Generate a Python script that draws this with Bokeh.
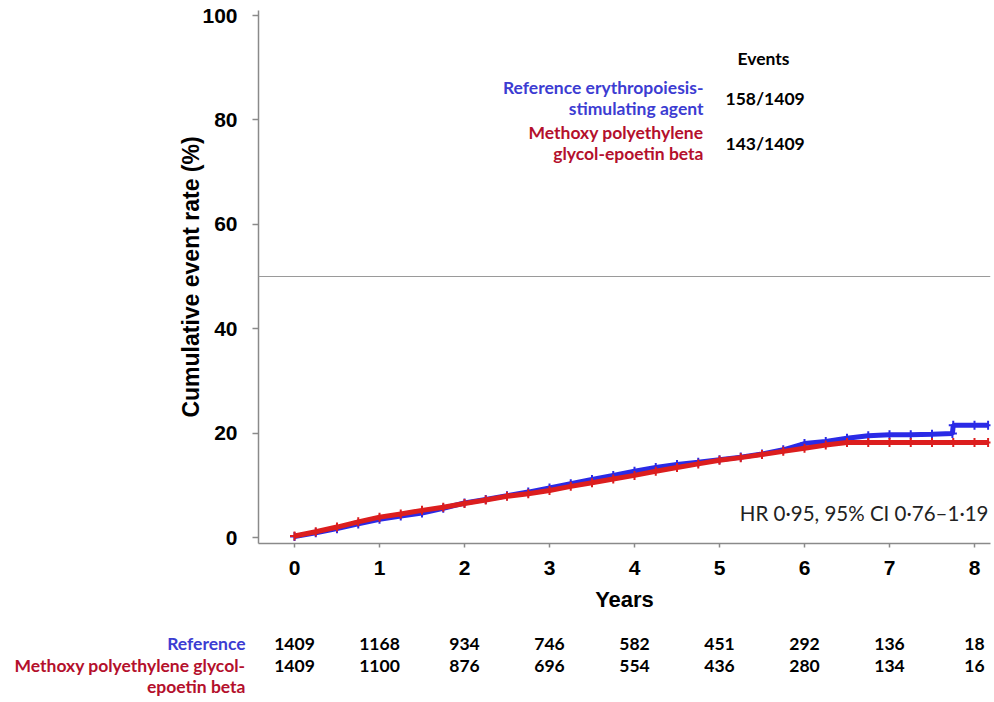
from bokeh.plotting import figure
from bokeh.models import Range1d, FixedTicker, Span, Label, ColumnDataSource
from bokeh.layouts import column
from bokeh.core.properties import value
from bokeh.embed import file_html
from bokeh.resources import INLINE

# ---------------- data ----------------
ref_t = [0, 0.25, 0.5, 0.75, 1.0, 1.25, 1.5, 1.75, 2.0, 2.25, 2.5, 2.75, 3.0, 3.25, 3.5, 3.75,
         4.0, 4.25, 4.5, 4.75, 5.0, 5.25, 5.5, 5.75, 6.0, 6.25, 6.5, 6.75, 7.0, 7.25, 7.5, 7.74,
         7.75, 8.0, 8.16]
ref_v = [0.2, 0.9, 1.7, 2.6, 3.5, 4.1, 4.7, 5.6, 6.6, 7.3, 8.0, 8.7, 9.5, 10.3, 11.1, 11.9,
         12.7, 13.4, 14.0, 14.4, 14.9, 15.4, 16.0, 16.8, 18.0, 18.4, 19.0, 19.5, 19.7, 19.7, 19.8, 19.9,
         21.5, 21.5, 21.5]
mpg_t = [0, 0.25, 0.5, 0.75, 1.0, 1.25, 1.5, 1.75, 2.0, 2.25, 2.5, 2.75, 3.0, 3.25, 3.5, 3.75,
         4.0, 4.25, 4.5, 4.75, 5.0, 5.25, 5.5, 5.75, 6.0, 6.25, 6.5, 6.75, 7.0, 7.25, 7.5, 7.75,
         8.0, 8.16]
mpg_v = [0.3, 1.1, 2.0, 3.0, 3.9, 4.5, 5.2, 5.8, 6.5, 7.2, 7.9, 8.4, 9.0, 9.8, 10.5, 11.2,
         11.9, 12.7, 13.4, 14.1, 14.8, 15.3, 15.9, 16.5, 17.1, 17.7, 18.2, 18.2, 18.2, 18.2, 18.2, 18.2,
         18.2, 18.2]

x_ticks = [0, 1, 2, 3, 4, 5, 6, 7, 8]
y_ticks = [0, 20, 40, 60, 80, 100]
risk_years = [0, 1, 2, 3, 4, 5, 6, 7, 8]
risk_ref = [1409, 1168, 934, 746, 582, 451, 292, 136, 18]
risk_mpg = [1409, 1100, 876, 696, 554, 436, 280, 134, 16]
events_ref = "158/1409"
events_mpg = "143/1409"
hr_text = "HR 0\u00b795, 95% CI 0\u00b776\u20131\u00b719"

BLUE = "#2a2ae6"
RED = "#dc1e1e"
BLUE_TXT = "#3c3cd2"
RED_TXT = "#b4102c"
AXIS = "#8a8a8a"
CAL = "Lato"
ARIAL = "Liberation Sans"
CAL_SIZE = "17.5px"

# ---------------- geometry helpers (page px -> data) ----------------
X0, PX_PER_YR = 294.0, 85.0
Y0, PX_PER_PCT = 537.0, 5.22
W = 992
FRAME_L, FRAME_R, FRAME_T, FRAME_B = 258, 990, 10, 543
H_MAIN = 632


def dx(px):
    return (px - X0) / PX_PER_YR


def dy(py):
    return (Y0 - py) / PX_PER_PCT


p = figure(width=W, height=H_MAIN, output_backend="svg", toolbar_location=None,
           x_range=Range1d(dx(FRAME_L), dx(FRAME_R)),
           y_range=Range1d(dy(FRAME_B), dy(FRAME_T)),
           min_border_left=FRAME_L, min_border_right=W - FRAME_R,
           min_border_top=FRAME_T, min_border_bottom=H_MAIN - FRAME_B)
p.grid.visible = False
p.outline_line_color = None

for ax in (p.xaxis[0], p.yaxis[0]):
    ax.axis_line_color = AXIS
    ax.axis_line_width = 1.5
    ax.major_tick_line_color = AXIS
    ax.major_tick_line_width = 1.5
    ax.major_tick_in = 0
    ax.minor_tick_line_color = None
    ax.major_label_text_font = ARIAL
    ax.major_label_text_font_style = "bold"
    ax.major_label_text_font_size = "21px"
    ax.major_label_text_color = "black"
    ax.axis_label_text_font = ARIAL
    ax.axis_label_text_font_style = "bold"
    ax.axis_label_text_color = "black"

p.xaxis.ticker = FixedTicker(ticks=x_ticks)
p.yaxis.ticker = FixedTicker(ticks=y_ticks)
p.xaxis.major_tick_out = 4
p.yaxis.major_tick_out = 6
p.xaxis.major_label_standoff = 13
p.yaxis.major_label_standoff = 15
p.xaxis.axis_label = "Years"
p.xaxis.axis_label_text_font_size = "22px"
p.xaxis.axis_label_standoff = 9
p.yaxis.axis_label = "Cumulative event rate (%)"
p.yaxis.axis_label_text_font_size = "23px"
p.yaxis.axis_label_standoff = -5

p.add_layout(Span(location=50, dimension="width", line_color="#9a9a9a", line_width=1))

src_ref = ColumnDataSource(dict(t=ref_t, v=ref_v))
src_mpg = ColumnDataSource(dict(t=mpg_t, v=mpg_v))
p.line("t", "v", source=src_ref, line_color=BLUE, line_width=5)
p.scatter("t", "v", source=src_ref, marker="cross", size=9, line_color=BLUE, line_width=2)
p.line("t", "v", source=src_mpg, line_color=RED, line_width=5)
p.scatter("t", "v", source=src_mpg, marker="cross", size=9, line_color=RED, line_width=2)


def lab(text, px, py, align, color="black", style="bold", size=CAL_SIZE):
    p.add_layout(Label(x=dx(px), y=dy(py), text=text, text_align=align, text_baseline="middle",
                       text_color=color, text_font=CAL, text_font_style=style,
                       text_font_size=size))


lab("Events", 763, 58, "center")
lab("Reference erythropoiesis-", 703, 87, "right", BLUE_TXT)
lab("stimulating agent", 703, 108, "right", BLUE_TXT)
lab(events_ref, 725, 98, "left")
lab("Methoxy polyethylene", 703, 132, "right", RED_TXT)
lab("glycol-epoetin beta", 703, 153, "right", RED_TXT)
lab(events_mpg, 725, 143, "left")
lab(hr_text, 988, 512, "right", "#222222", "normal", "20.5px")


# ---------------- risk table (two aligned strips) ----------------
def risk_strip(top, bottom, rows, names, color, counts):
    r = figure(width=W, height=bottom - top, output_backend="svg", toolbar_location=None,
               x_range=p.x_range, y_range=Range1d(bottom, top),
               min_border_left=FRAME_L, min_border_right=W - FRAME_R,
               min_border_top=0, min_border_bottom=0,
               x_axis_location=None, y_axis_location="left")
    r.grid.visible = False
    r.outline_line_color = None
    ya = r.yaxis[0]
    ya.ticker = FixedTicker(ticks=rows)
    ya.major_label_overrides = {row: name for row, name in zip(rows, names)}
    ya.axis_line_color = None
    ya.major_tick_line_color = None
    ya.minor_tick_line_color = None
    ya.major_tick_out = 0
    ya.major_tick_in = 0
    ya.major_label_standoff = 13
    ya.major_label_text_font = CAL
    ya.major_label_text_font_style = "bold"
    ya.major_label_text_font_size = CAL_SIZE
    ya.major_label_text_color = color
    src = ColumnDataSource(dict(x=risk_years, n=[str(v) for v in counts],
                                y=[rows[0]] * len(risk_years)))
    r.text(x="x", y="y", text="n", source=src, text_align="center", text_baseline="middle",
           text_font=value(CAL), text_font_style="bold", text_font_size=CAL_SIZE,
           text_color="black")
    return r


r1 = risk_strip(632, 654, [643], ["Reference"], BLUE_TXT, risk_ref)
r2 = risk_strip(654, 698, [665, 686], ["Methoxy polyethylene glycol-", "epoetin beta"],
                RED_TXT, risk_mpg)

layout = column(p, r1, r2, spacing=0)
open("out.html", "w").write(file_html(layout, INLINE))
